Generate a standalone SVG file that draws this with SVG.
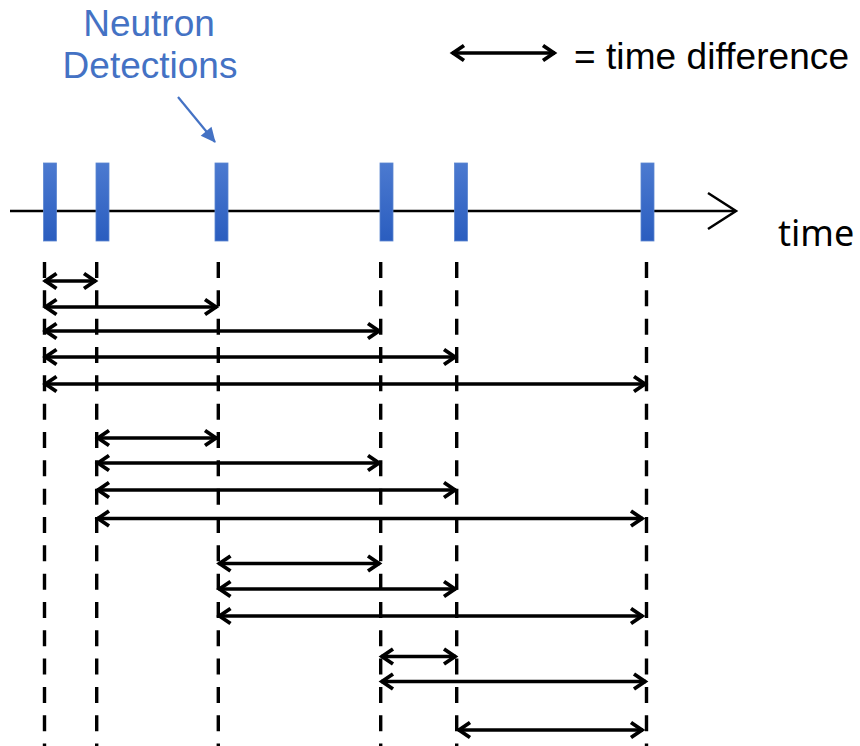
<svg xmlns="http://www.w3.org/2000/svg" width="860" height="746" viewBox="0 0 860 746">
  <style>
    .label { font-family: "Liberation Sans", Arial, sans-serif; font-size: 37px; fill: #000; }
    .blue { fill: #4472C4; }
    .axis { stroke: #000; stroke-width: 2.5; fill: none; }
    .guide { stroke: #000; stroke-width: 3.4; stroke-dasharray: 16 12.33; fill: none; }
    .span { stroke: #000; stroke-width: 3.3; fill: none; marker-start: url(#chev); marker-end: url(#chev); }
    .bar { fill: url(#barFill); stroke: #5b86d0; stroke-width: 0.8; }
  </style>
  <defs>
    <linearGradient id="barFill" x1="0" y1="0" x2="0" y2="1">
      <stop offset="0" stop-color="#4c7ad0"/>
      <stop offset="1" stop-color="#2a5dbf"/>
    </linearGradient>
    <marker id="chev" markerUnits="userSpaceOnUse" markerWidth="18" markerHeight="20" refX="13.5" refY="10" orient="auto-start-reverse" overflow="visible">
      <path d="M1.5,2.5 L12.5,10 L1.5,17.5" fill="none" stroke="#000" stroke-width="3.8"/>
    </marker>
    <marker id="pointer" markerUnits="userSpaceOnUse" markerWidth="18" markerHeight="16" refX="14" refY="7" orient="auto" overflow="visible">
      <path d="M0,0 L15,7 L0,14 Z" fill="#4472C4"/>
    </marker>
  </defs>

  <!-- caption and pointer -->
  <g id="caption">
    <text class="label blue" x="149" y="36" text-anchor="middle">Neutron</text>
    <text class="label blue" x="150" y="78" text-anchor="middle">Detections</text>
    <line x1="178" y1="97" x2="215" y2="142" stroke="#4472C4" stroke-width="2.2" marker-end="url(#pointer)"/>
  </g>

  <!-- legend -->
  <g id="legend">
    <line class="span" x1="452" y1="53" x2="555" y2="53"/>
    <text class="label" x="574" y="69" textLength="275" lengthAdjust="spacing">= time difference</text>
  </g>

  <!-- time axis -->
  <g id="axis">
    <line class="axis" x1="10" y1="211" x2="735" y2="211"/>
    <path class="axis" d="M708,193 L736,211 L708,229"/>
    <text x="778" y="246" style="font-family: 'Noto Sans', 'Open Sans', sans-serif; font-size: 36px; fill: #000;">time</text>
  </g>

  <!-- vertical guides through each detection -->
  <g id="guides">
    <line class="guide" x1="44.5" y1="262" x2="44.5" y2="746"/>
    <line class="guide" x1="96.7" y1="262" x2="96.7" y2="746"/>
    <line class="guide" x1="218.3" y1="262" x2="218.3" y2="746"/>
    <line class="guide" x1="380.7" y1="262" x2="380.7" y2="746"/>
    <line class="guide" x1="456.7" y1="262" x2="456.7" y2="746"/>
    <line class="guide" x1="646.5" y1="262" x2="646.5" y2="746"/>
  </g>

  <!-- detection events -->
  <g id="det1"><rect class="bar" x="43.5" y="163" width="13" height="78"/></g>
  <g id="det2"><rect class="bar" x="96" y="163" width="13" height="78"/></g>
  <g id="det3"><rect class="bar" x="215" y="163" width="13" height="78"/></g>
  <g id="det4"><rect class="bar" x="380" y="163" width="13" height="78"/></g>
  <g id="det5"><rect class="bar" x="454.5" y="163" width="13" height="78"/></g>
  <g id="det6"><rect class="bar" x="641" y="163" width="13" height="78"/></g>

  <!-- pairwise time differences -->
  <g id="connectors">
    <line class="span" x1="44.5" y1="281" x2="96" y2="281"/>
    <line class="span" x1="44.5" y1="307" x2="217" y2="307"/>
    <line class="span" x1="44.5" y1="331" x2="380" y2="331"/>
    <line class="span" x1="44.5" y1="357" x2="456" y2="357"/>
    <line class="span" x1="44.5" y1="384" x2="646" y2="384"/>

    <line class="span" x1="97" y1="438" x2="217" y2="438"/>
    <line class="span" x1="97" y1="463" x2="380" y2="463"/>
    <line class="span" x1="97" y1="490" x2="456" y2="490"/>
    <line class="span" x1="97" y1="518.5" x2="643" y2="518.5"/>

    <line class="span" x1="218.5" y1="563.5" x2="380" y2="563.5"/>
    <line class="span" x1="218.5" y1="589" x2="456" y2="589"/>
    <line class="span" x1="218.5" y1="616" x2="643" y2="616"/>

    <line class="span" x1="381" y1="656.5" x2="456" y2="656.5"/>
    <line class="span" x1="381" y1="681.5" x2="646" y2="681.5"/>

    <line class="span" x1="458" y1="730" x2="643" y2="730"/>
  </g>
</svg>
